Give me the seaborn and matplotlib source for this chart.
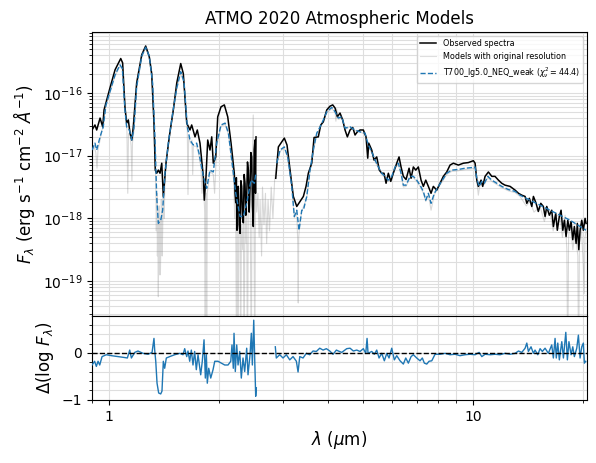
import numpy as np
import pandas as pd
import matplotlib
matplotlib.use("Agg")
import matplotlib.pyplot as plt
import matplotlib.ticker as mticker
from matplotlib.lines import Line2D
import seaborn as sns

# ============================================================
# Data
# wavelength in um, flux as log10(erg s-1 cm-2 A-1)
# NaN marks the gap in the observed data (2.5 - 2.9 um)
# ============================================================

obs_wave = [
    0.898, 0.915, 0.925, 0.945, 0.961, 0.969, 1.006, 1.039, 1.077, 1.090,
    1.106, 1.118, 1.130, 1.142, 1.155, 1.166, 1.191, 1.230, 1.261, 1.290,
    1.310, 1.329, 1.340, 1.352, 1.366, 1.381, 1.396, 1.410, 1.434, 1.464,
    1.502, 1.535, 1.574, 1.600, 1.635, 1.669, 1.687, 1.723, 1.748, 1.778,
    1.797, 1.816, 1.827, 1.847, 1.867, 1.894, 1.915, 1.934, 1.964, 1.989,
    2.031, 2.074, 2.119, 2.164,
    2.209, 2.219, 2.229, 2.238, 2.247, 2.256, 2.266, 2.278, 2.291, 2.303,
    2.315, 2.327, 2.339, 2.351, 2.364, 2.376, 2.389, 2.401, 2.414, 2.427,
    2.440, 2.453, 2.466, 2.478, 2.491, 2.505, 2.518, 2.526, 2.534,
    2.700,
    2.871, 2.919, 2.982, 3.031, 3.083, 3.143, 3.209, 3.279, 3.348, 3.419,
    3.477, 3.528, 3.605, 3.658, 3.758, 3.816, 3.879, 3.964, 4.047, 4.117,
    4.178, 4.239, 4.311, 4.385, 4.450, 4.516, 4.593, 4.672, 4.741, 4.810,
    4.893, 4.996, 5.082, 5.137, 5.170, 5.269, 5.346, 5.438, 5.528, 5.612,
    5.694, 5.768, 5.852, 5.942, 6.039, 6.171, 6.262, 6.342, 6.435, 6.546,
    6.672, 6.757, 6.855, 6.960, 7.075, 7.197, 7.303, 7.415, 7.538, 7.667,
    7.779, 7.949, 8.116, 8.287, 8.467, 8.646, 8.829, 9.112, 9.405, 9.707,
    10.02, 10.13, 10.24, 10.34, 10.52, 10.63, 10.79, 11.02, 11.26, 11.49,
    11.74, 11.99, 12.24, 12.64, 13.05, 13.33, 13.61, 13.90, 14.05, 14.28,
    14.50, 14.65, 14.90, 15.11, 15.35, 15.60, 15.77, 15.94, 16.20, 16.45,
    16.62, 16.87, 17.04, 17.26, 17.45, 17.64, 17.82, 18.01, 18.21, 18.39,
    18.59, 18.79, 18.98, 19.19, 19.34, 19.52, 19.68, 19.89, 20.09, 20.31,
    20.44,
]
obs_logflux = [
    -16.59, -16.51, -16.59, -16.40, -16.54, -16.27, -15.92, -15.63, -15.45, -15.52,
    -16.22, -16.48, -16.43, -16.64, -16.75, -16.54, -15.84, -15.39, -15.25, -15.42,
    -15.69, -16.48, -17.23, -17.28, -17.23, -17.28, -17.12, -17.65, -17.12, -16.70,
    -16.27, -15.84, -15.53, -15.69, -16.48, -16.59, -16.51, -16.70, -16.59, -16.80,
    -17.07, -17.33, -17.71, -17.33, -16.75, -16.91, -16.70, -17.12, -17.02, -16.38,
    -16.22, -16.19, -16.38, -16.80,
    -17.28, -17.60, -17.75, -17.35, -18.19, -17.50, -17.49, -18.10, -18.24, -17.40,
    -17.49, -18.00, -18.07, -17.30, -17.44, -17.95, -17.65, -17.10, -17.23, -17.90,
    -17.49, -16.95, -17.02, -17.80, -18.13, -16.90, -16.75, -17.60, -16.70,
    np.nan,
    -17.36, -16.86, -16.78, -16.72, -16.83, -17.23, -17.65, -17.81, -17.73, -17.65,
    -17.49, -17.28, -17.12, -16.71, -16.70, -16.51, -16.46, -16.27, -16.21, -16.19,
    -16.24, -16.38, -16.32, -16.43, -16.59, -16.70, -16.59, -16.55, -16.67, -16.62,
    -16.59, -16.59, -16.70, -17.04, -16.80, -16.91, -17.07, -17.02, -17.23, -17.28,
    -17.28, -17.44, -17.28, -17.41, -17.28, -17.12, -17.02, -17.18, -17.33, -17.38,
    -17.20, -17.36, -17.18, -17.23, -17.18, -17.39, -17.49, -17.39, -17.49, -17.60,
    -17.49, -17.55, -17.44, -17.33, -17.26, -17.15, -17.12, -17.15, -17.12, -17.11,
    -17.08, -17.12, -17.39, -17.49, -17.39, -17.49, -17.33, -17.26, -17.33, -17.33,
    -17.39, -17.44, -17.47, -17.49, -17.55, -17.60, -17.63, -17.65, -17.76, -17.68,
    -17.81, -17.65, -17.76, -17.89, -17.76, -17.81, -17.97, -17.81, -17.95, -17.87,
    -18.13, -17.92, -18.19, -17.97, -17.87, -18.19, -18.03, -18.29, -18.03, -18.19,
    -18.05, -18.34, -18.13, -18.40, -18.08, -18.50, -18.19, -18.03, -18.19, -18.00,
    -18.08,
]

model_wave = [
    0.898, 0.915, 0.925, 0.945, 0.964, 0.981, 1.006, 1.039, 1.072, 1.088,
    1.106, 1.118, 1.137, 1.155, 1.171, 1.191, 1.230, 1.261, 1.290, 1.318,
    1.338, 1.352, 1.366, 1.387, 1.404, 1.425, 1.455, 1.496, 1.535, 1.574,
    1.607, 1.641, 1.669, 1.704, 1.741, 1.767, 1.816, 1.855, 1.894, 1.934,
    1.976, 2.031, 2.084, 2.128, 2.174, 2.229, 2.291, 2.339, 2.389, 2.455,
    2.507, 2.530,
    2.700,
    2.889, 2.950, 3.031, 3.097, 3.177, 3.229, 3.279, 3.327, 3.384, 3.419,
    3.493, 3.566, 3.641, 3.721, 3.800, 3.879, 3.964, 4.091, 4.178, 4.265,
    4.358, 4.450, 4.593, 4.741, 4.893, 5.050, 5.157, 5.269, 5.381, 5.494,
    5.612, 5.731, 5.852, 5.979, 6.106, 6.235, 6.342, 6.435, 6.546, 6.714,
    6.855, 7.003, 7.151, 7.303, 7.415, 7.538, 7.667, 7.829, 8.031, 8.237,
    8.467, 8.739, 9.112, 9.506, 9.917, 10.13, 10.24, 10.39, 10.57, 10.74,
    10.98, 11.26, 11.62, 11.99, 12.50, 13.05, 13.46, 14.34, 15.28, 16.27,
    17.34, 18.48, 19.68, 20.44,
]
model_logflux = [
    -16.91, -16.80, -16.91, -16.70, -16.54, -16.19, -15.98, -15.71, -15.55, -15.61,
    -16.27, -16.54, -16.59, -16.75, -16.56, -15.90, -15.41, -15.27, -15.41, -15.85,
    -16.75, -17.65, -18.08, -18.03, -17.87, -17.28, -16.80, -16.32, -15.92, -15.66,
    -15.82, -16.54, -16.75, -16.83, -16.80, -16.96, -17.33, -17.52, -17.23, -17.26,
    -16.80, -16.51, -16.48, -16.64, -17.07, -17.60, -17.97, -17.97, -17.76, -17.39,
    -17.44, -17.30,
    np.nan,
    -17.12, -16.91, -16.86, -17.02, -17.49, -17.97, -17.87, -18.19, -17.87, -17.87,
    -17.65, -17.23, -16.91, -16.64, -16.54, -16.43, -16.30, -16.23, -16.30, -16.40,
    -16.38, -16.56, -16.54, -16.59, -16.62, -16.64, -16.83, -16.94, -17.07, -17.18,
    -17.28, -17.33, -17.39, -17.33, -17.18, -17.12, -17.28, -17.47, -17.47, -17.33,
    -17.33, -17.39, -17.47, -17.57, -17.71, -17.60, -17.76, -17.60, -17.49, -17.39,
    -17.28, -17.23, -17.22, -17.20, -17.19, -17.18, -17.36, -17.49, -17.41, -17.44,
    -17.33, -17.39, -17.44, -17.49, -17.54, -17.57, -17.63, -17.71, -17.79, -17.87,
    -17.95, -18.03, -18.13, -18.19,
]

# original-resolution model (no gap)
orig_wave = [
    0.898, 0.910, 0.920, 0.927, 0.933, 0.945, 0.955, 0.965, 0.975, 1.006,
    1.039, 1.072, 1.088, 1.100, 1.110, 1.120, 1.126, 1.131, 1.142, 1.150,
    1.156, 1.160, 1.172, 1.191, 1.230, 1.261, 1.290, 1.318, 1.330, 1.338,
    1.345, 1.349, 1.352, 1.355, 1.358, 1.362, 1.366, 1.370, 1.373, 1.376,
    1.381, 1.384, 1.388, 1.392, 1.396, 1.400, 1.404, 1.408, 1.412, 1.418,
    1.425, 1.455, 1.496, 1.535, 1.574, 1.607, 1.625, 1.641,
    1.648, 1.655, 1.675, 1.690, 1.698, 1.705, 1.741, 1.767, 1.790, 1.800,
    1.816, 1.832, 1.838, 1.843, 1.850, 1.855, 1.861, 1.894, 1.934, 1.950,
    1.976, 2.031, 2.084, 2.128, 2.174, 2.200, 2.215, 2.229, 2.240, 2.250,
    2.262, 2.272, 2.291, 2.300, 2.310, 2.330, 2.339, 2.350, 2.362, 2.380,
    2.389, 2.400, 2.415, 2.440, 2.460, 2.470, 2.490, 2.500, 2.515, 2.525,
    2.545, 2.565, 2.585, 2.600, 2.625, 2.640, 2.665, 2.690, 2.710, 2.735,
    2.760, 2.790, 2.820, 2.850, 2.889, 2.950, 3.031, 3.097, 3.177, 3.229,
    3.279, 3.300, 3.310, 3.320, 3.340, 3.384, 3.493, 3.566, 3.641, 3.721,
    3.800, 3.879, 3.964, 4.091, 4.178, 4.200, 4.220, 4.265, 4.358, 4.450,
    4.593, 4.741, 4.893, 5.050, 5.157, 5.269, 5.381, 5.494, 5.612, 5.731,
    5.852, 5.979, 6.106, 6.235, 6.342, 6.435, 6.546, 6.714, 6.855, 7.003,
    7.151, 7.303, 7.415, 7.538, 7.667, 7.829, 8.031, 8.237, 8.467, 8.739,
    9.112, 9.506, 9.917, 10.13, 10.24, 10.34, 10.45, 10.57, 10.74, 10.98,
    11.26, 11.62, 11.99, 12.50, 13.05, 13.46, 14.00, 14.34, 14.70, 15.28,
    15.70, 16.00, 16.27, 16.60, 16.90, 17.34, 17.60, 17.90, 18.10, 18.20,
    18.30, 18.48, 18.80, 19.10, 19.40, 19.50, 19.60, 19.85, 20.10, 20.20,
    20.30, 20.44,
]
orig_logflux = [
    -16.95, -16.85, -16.95, -17.20, -16.90, -16.75, -16.60, -16.55, -16.25, -16.00,
    -15.73, -15.57, -15.63, -15.95, -16.35, -16.60, -17.60, -16.65, -16.65, -16.85,
    -17.40, -16.80, -16.58, -15.92, -15.43, -15.28, -15.43, -15.90, -16.50, -16.90,
    -17.50, -18.20, -17.80, -17.60, -18.60, -18.10, -19.25, -18.20, -17.80, -18.90,
    -18.00, -18.90, -18.40, -17.70, -17.95, -18.60, -18.20, -17.60, -17.70, -18.00,
    -17.30, -16.82, -16.34, -15.94, -15.68, -15.85, -16.30, -16.60,
    -17.62, -16.70, -16.80, -16.75, -17.30, -16.85, -16.85, -17.00, -17.20, -17.60,
    -17.40, -17.90, -20.50, -17.70, -17.60, -20.50, -17.60, -17.25, -17.30, -17.60,
    -16.85, -16.53, -16.50, -16.66, -17.10, -17.40, -18.00, -17.65, -20.50, -18.00,
    -20.50, -18.10, -18.05, -20.50, -18.10, -18.50, -18.00, -20.50, -17.90, -18.40,
    -17.80, -20.50, -17.60, -17.50, -20.50, -17.50, -16.35, -17.60, -20.50, -17.40,
    -17.90, -17.60, -18.30, -17.70, -18.60, -17.50, -18.10, -17.60, -18.40, -17.70,
    -18.20, -17.50, -18.00, -17.40, -17.14, -16.93, -16.88, -17.04, -17.51, -17.99,
    -17.89, -18.40, -19.35, -18.30, -18.10, -17.89, -17.67, -17.25, -16.93, -16.66,
    -16.56, -16.45, -16.32, -16.25, -16.30, -16.45, -16.25, -16.42, -16.40, -16.58,
    -16.54, -16.60, -16.62, -16.66, -16.85, -16.96, -17.09, -17.20, -17.30, -17.35,
    -17.41, -17.35, -17.20, -17.14, -17.30, -17.50, -17.49, -17.35, -17.35, -17.41,
    -17.49, -17.60, -17.73, -17.62, -17.87, -17.62, -17.51, -17.41, -17.30, -17.25,
    -17.24, -17.22, -17.21, -17.20, -17.40, -17.63, -17.45, -17.43, -17.46, -17.35,
    -17.41, -17.46, -17.51, -17.56, -17.59, -17.65, -17.80, -17.73, -17.90, -17.81,
    -18.05, -17.85, -17.89, -18.20, -17.95, -17.97, -18.30, -17.95, -18.50, -20.50,
    -18.30, -18.05, -18.50, -18.20, -18.60, -20.50, -18.40, -18.15, -18.80, -19.20,
    -18.30, -18.21,
]

# residuals, Delta(log F)
resid_wave = [
    0.898, 0.913, 0.923, 0.933, 0.943, 0.957, 0.983, 1.015, 1.059, 1.104,
    1.123, 1.140, 1.152, 1.177, 1.201, 1.240, 1.280, 1.313, 1.329, 1.335,
    1.344, 1.355, 1.369, 1.387, 1.398, 1.410, 1.422, 1.437, 1.468, 1.515,
    1.564, 1.597, 1.614, 1.635, 1.648, 1.666, 1.683, 1.701, 1.719, 1.737,
    1.756, 1.786, 1.804, 1.824, 1.839, 1.851, 1.862, 1.879, 1.903, 1.931,
    1.952, 1.993, 2.035, 2.079, 2.123, 2.160, 2.177, 2.195, 2.205, 2.223,
    2.243, 2.262, 2.286, 2.309, 2.334, 2.359, 2.389, 2.409, 2.440, 2.460,
    2.476, 2.498, 2.514, 2.529, 2.539,
    2.700,
    2.863, 2.881, 2.944, 3.006, 3.070, 3.137, 3.203, 3.271, 3.306, 3.342,
    3.412, 3.483, 3.559, 3.634, 3.711, 3.792, 3.873, 3.954, 4.040, 4.125,
    4.213, 4.266, 4.358, 4.498, 4.593, 4.690, 4.792, 4.893, 4.996, 5.073,
    5.115, 5.147, 5.269, 5.356, 5.438, 5.518, 5.612, 5.706, 5.794, 5.878,
    5.979, 6.078, 6.171, 6.302, 6.435, 6.534, 6.642, 6.757, 6.855, 7.003,
    7.151, 7.256, 7.349, 7.462, 7.571, 7.702, 7.864, 8.116, 8.378, 8.646,
    8.923, 9.210, 9.506, 9.813, 10.13, 10.39, 10.57, 10.79, 11.14, 11.49,
    11.86, 12.24, 12.64, 13.05, 13.33, 13.61, 13.90, 14.05, 14.19, 14.43,
    14.65, 14.80, 15.06, 15.28, 15.50, 15.77, 16.10, 16.45, 16.62, 16.80,
    16.93, 17.09, 17.26, 17.53, 17.71, 17.98, 18.16, 18.34, 18.59, 18.79,
    18.98, 19.27, 19.47, 19.68, 19.89, 20.09, 20.22, 20.40,
]
resid_dlog = [
    -0.26, -0.18, -0.29, -0.18, -0.26, -0.08, -0.04, -0.06, -0.08, -0.10,
    -0.11, 0.06, -0.11, 0.01, 0.04, -0.01, -0.03, 0.01, 0.31, 0.06,
    -0.18, -0.65, -0.86, -0.88, -0.82, -0.18, -0.33, -0.11, -0.08, -0.04,
    -0.01, -0.04, 0.09, -0.08, 0.04, -0.18, 0.06, -0.26, 0.03, -0.36,
    -0.04, -0.47, -0.18, 0.28, -0.54, -0.04, -0.65, -0.33, -0.54, -0.36,
    -0.18, -0.18, -0.22, -0.26, -0.26, -0.18, 0.17, -0.33, 0.42, -0.40,
    0.17, -0.26, 0.03, -0.54, -0.11, -0.40, 0.10, -0.47, -0.04, 0.42,
    -0.26, 0.70, -0.18, -0.93, -0.75,
    np.nan,
    0.13, -0.11, -0.04, -0.11, -0.04, -0.15, -0.08, -0.18, -0.41, -0.08,
    -0.11, -0.01, -0.04, 0.04, 0.03, 0.10, 0.06, 0.09, 0.04, -0.03,
    0.06, 0.04, 0.01, 0.09, 0.10, 0.04, 0.06, 0.03, 0.09, -0.01,
    0.31, -0.01, 0.03, -0.03, 0.06, -0.11, -0.01, -0.17, -0.01, -0.11,
    0.10, -0.15, -0.06, -0.17, -0.24, -0.11, -0.22, -0.08, -0.04, -0.11,
    -0.17, -0.11, -0.22, -0.24, -0.18, -0.17, -0.03, -0.03, -0.01, -0.04,
    -0.03, -0.06, -0.04, -0.03, -0.04, 0.01, -0.08, -0.03, -0.04, -0.03,
    -0.04, -0.01, -0.03, -0.01, 0.04, 0.01, 0.10, 0.21, 0.03, 0.13,
    -0.01, 0.06, -0.04, 0.09, 0.03, 0.10, -0.01, 0.17, -0.11, 0.31,
    -0.11, 0.21, -0.15, 0.24, -0.11, 0.44, -0.15, 0.24, -0.04, 0.13,
    -0.08, 0.10, 0.38, -0.11, 0.13, 0.21, -0.22, -0.18,
]

legend_labels = [
    "Observed spectra",
    "Models with original resolution",
    r"T700_lg5.0_NEQ_weak ($\chi^2_\nu = 44.4$)",
]


# ============================================================
# Build tables (one "seg" id per unbroken stretch of data)
# ============================================================

def make_table(wave, values, log_values=True):
    df = pd.DataFrame({"wave": wave, "value": values})
    df["seg"] = df["value"].isna().cumsum()
    df = df.dropna().reset_index(drop=True)
    if log_values:
        df["value"] = 10 ** df["value"]
    return df


obs = make_table(obs_wave, obs_logflux)
model = make_table(model_wave, model_logflux)
orig = make_table(orig_wave, orig_logflux)
resid = make_table(resid_wave, resid_dlog, log_values=False)

# ============================================================
# Plot
# ============================================================

fig = plt.figure(figsize=(5.96, 4.63), dpi=100)
gs = fig.add_gridspec(
    2, 1, height_ratios=[284, 84], hspace=0,
    left=92 / 596, right=587 / 596, top=1 - 32 / 463, bottom=1 - 400 / 463,
)
ax1 = fig.add_subplot(gs[0])
ax2 = fig.add_subplot(gs[1], sharex=ax1)

line_kws = dict(x="wave", y="value", units="seg", estimator=None,
                sort=False, legend=False)

sns.lineplot(data=orig, ax=ax1, color="grey", alpha=0.3, lw=0.8,
             zorder=2, **line_kws)
sns.lineplot(data=obs, ax=ax1, color="black", lw=1.1, zorder=3, **line_kws)
sns.lineplot(data=model, ax=ax1, color="tab:blue", ls="--", lw=1.0,
             zorder=4, **line_kws)

ax1.set_xscale("log")
ax1.set_yscale("log")
ax1.set_xlim(0.898, 20.56)
ax1.set_ylim(2.77e-20, 9.4e-16)

ax1.set_title("ATMO 2020 Atmospheric Models", fontsize=12)
ax1.set_xlabel("")
ax1.set_ylabel(r"$F_\lambda$ (erg s$^{-1}$ cm$^{-2}$ $\AA^{-1}$)", fontsize=12)
ax1.tick_params(labelbottom=False)

handles = [
    Line2D([], [], color="black", lw=1.1),
    Line2D([], [], color="grey", alpha=0.25, lw=0.8),
    Line2D([], [], color="tab:blue", ls="--", lw=1.0),
]
ax1.legend(handles, legend_labels, loc="upper right", fontsize=5.8)

# residual panel
sns.lineplot(data=resid, ax=ax2, color="tab:blue", lw=1.0, zorder=3,
             **line_kws)
ax2.axhline(0, color="black", ls="--", lw=1.0, zorder=4)
ax2.set_ylim(-1.01, 0.79)
ax2.yaxis.set_major_locator(mticker.MultipleLocator(1))
ax2.yaxis.set_minor_locator(mticker.MultipleLocator(0.2))

ax2.xaxis.set_major_formatter(mticker.FuncFormatter(lambda v, p: f"{v:g}"))
ax2.xaxis.set_minor_formatter(mticker.NullFormatter())
ax2.set_xlabel(r"$\lambda$ ($\mu$m)", fontsize=12)
ax2.set_ylabel(r"$\Delta(\log\,F_\lambda)$", fontsize=12)

for ax in (ax1, ax2):
    ax.set_axisbelow(True)
    ax.grid(True, which="both", color="0.87", lw=0.8)

fig.savefig("out.png", dpi=100)
